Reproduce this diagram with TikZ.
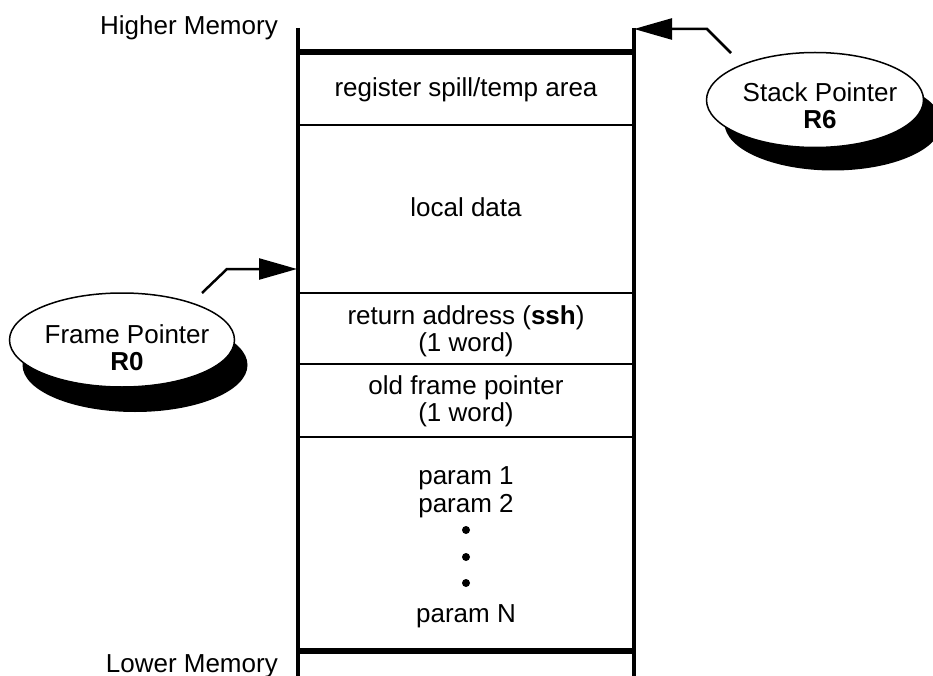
\documentclass[tikz,border=0pt]{standalone}
\usepackage{fontspec}
\setmainfont{Liberation Sans}
\usetikzlibrary{arrows.meta,shapes.geometric}
\begin{document}
\begin{tikzpicture}[x=1pt,y=-1pt,
  lbl/.style={anchor=base,font=\fontsize{26}{27}\selectfont,inner sep=0pt,align=center},
  vline/.style={line width=3.5pt},
  thinline/.style={line width=2.7pt},
  thickline/.style={line width=6pt},
  ptr/.style={ellipse,draw,line width=1.5pt,fill=white,inner sep=0pt},
  shadow/.style={ellipse,fill=black,inner sep=0pt},
  conn/.style={line width=2.5pt,-{Triangle[length=38pt,width=21pt]}},
  dotmark/.style={circle,fill=black,inner sep=0pt,minimum size=8pt}
]
\useasboundingbox (0,0) rectangle (933,676);
% frame coordinates
\coordinate (ltop) at (298,28);
\coordinate (lbot) at (298,678);
\coordinate (rtop) at (634,28);
\coordinate (rbot) at (634,678);
\draw[vline] (ltop) -- (lbot);
\draw[vline] (rtop) -- (rbot);
\draw[thickline] (298,52.5) -- (634,52.5);
\draw[thinline] (298,125) -- (634,125);
\draw[thinline] (298,293) -- (634,293);
\draw[thinline] (298,364) -- (634,364);
\draw[thinline] (298,437) -- (634,437);
\draw[thickline] (298,651) -- (634,651);
% labels
\node[lbl,anchor=base east] (hm) at (278,35) {Higher Memory};
\node[lbl,anchor=base east] (lm) at (278,672) {Lower Memory};
\node[lbl] (reg) at (466,97) {register spill/temp area};
\node[lbl] (loc) at (466,217) {local data};
\node[lbl] (ret) at (466,351) {return address (\textbf{ssh})\\(1 word)};
\node[lbl] (old) at (466,421) {old frame pointer\\(1 word)};
\node[lbl] (p1) at (466,484) {param 1};
\node[lbl] (p2) at (466,512) {param 2};
\node[dotmark] (d1) at (466,530) {};
\node[dotmark] (d2) at (466,557) {};
\node[dotmark] (d3) at (466,583) {};
\node[lbl] (pn) at (466,622) {param N};
% stack pointer
\node[shadow,minimum width=217pt,minimum height=95pt] (sps) at (833,123) {};
\node[ptr,minimum width=217pt,minimum height=95pt] (sp) at (815,100) {};
\node[lbl] (spt) at (820,129) {Stack Pointer\\\textbf{R6}};
% frame pointer
\node[shadow,minimum width=225pt,minimum height=94pt] (fps) at (135,365) {};
\node[ptr,minimum width=225pt,minimum height=94pt] (fp) at (122,340) {};
\node[lbl] (fpt) at (127,370) {Frame Pointer\\\textbf{R0}};
% connectors
\coordinate (spstart) at (731,53);
\coordinate (spbend) at (707,29);
\coordinate (sptip) at (634,29);
\draw[conn] (spstart) -- (spbend) -- (sptip);
\coordinate (fpstart) at (202,293);
\coordinate (fpbend) at (227,269);
\coordinate (fptip) at (297,269);
\draw[conn] (fpstart) -- (fpbend) -- (fptip);
\end{tikzpicture}
\end{document}
